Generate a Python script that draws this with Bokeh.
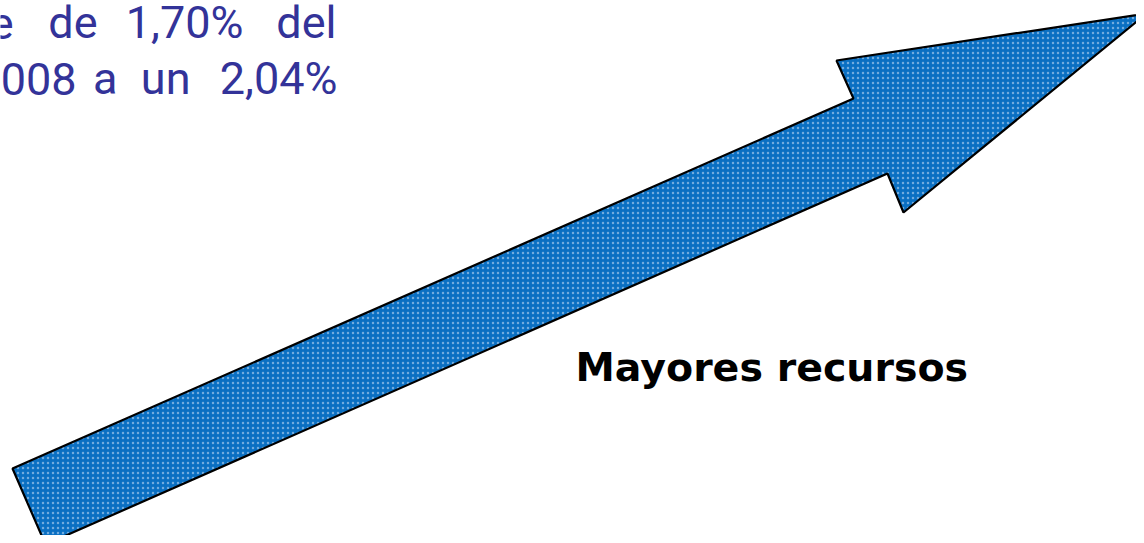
from bokeh.plotting import figure
from bokeh.models import Range1d, ColumnDataSource
from bokeh.core.properties import value
from bokeh.embed import file_html
from bokeh.resources import INLINE

# Arrow outline (slide coordinates, px, y downward)
arrow_x = [12, 853, 836, 1146, 903, 887, 45]
arrow_y = [468, 98, 60, 13, 212, 173, 544]

# Justified text fragment (words, right edge, baseline)
line1_words = ["e", "de", "1,70%", "del"]
line1_right = [13, 97, 243, 336]
line2_words = ["2008", "a", "un", "2,04%"]
line2_right = [76, 117, 190, 337]
line_baselines = [22, 78]

label_text = "Mayores recursos"

W, H = 1136, 535
p = figure(width=W, height=H, output_backend="svg", toolbar_location=None,
           x_range=Range1d(0, W), y_range=Range1d(H, 0),
           min_border=0, outline_line_color=None)
p.axis.visible = False
p.grid.visible = False
p.background_fill_color = "white"
p.border_fill_color = "white"

p.patch(arrow_x, arrow_y, fill_color="#0a6fc2", line_color="black", line_width=2.2,
        hatch_pattern="dot", hatch_color="#9cc4ea", hatch_alpha=0.7, hatch_scale=5)

src1 = ColumnDataSource(dict(x=line1_right, y=[line_baselines[0]] * 4, t=line1_words))
src2 = ColumnDataSource(dict(x=line2_right, y=[line_baselines[1]] * 4, t=line2_words))
for s in (src1, src2):
    p.text(x="x", y="y", text="t", source=s, text_align="right", text_baseline="alphabetic",
           text_font=value("Roboto"), text_font_size="45px", text_color="#333399")

p.text(x=[575], y=[366], text=[label_text], text_align="left", text_baseline="alphabetic",
       text_font=value("DejaVu Sans"), text_font_style="bold", text_font_size="39.5px",
       text_color="black")

open("out.html", "w").write(file_html(p, INLINE))
